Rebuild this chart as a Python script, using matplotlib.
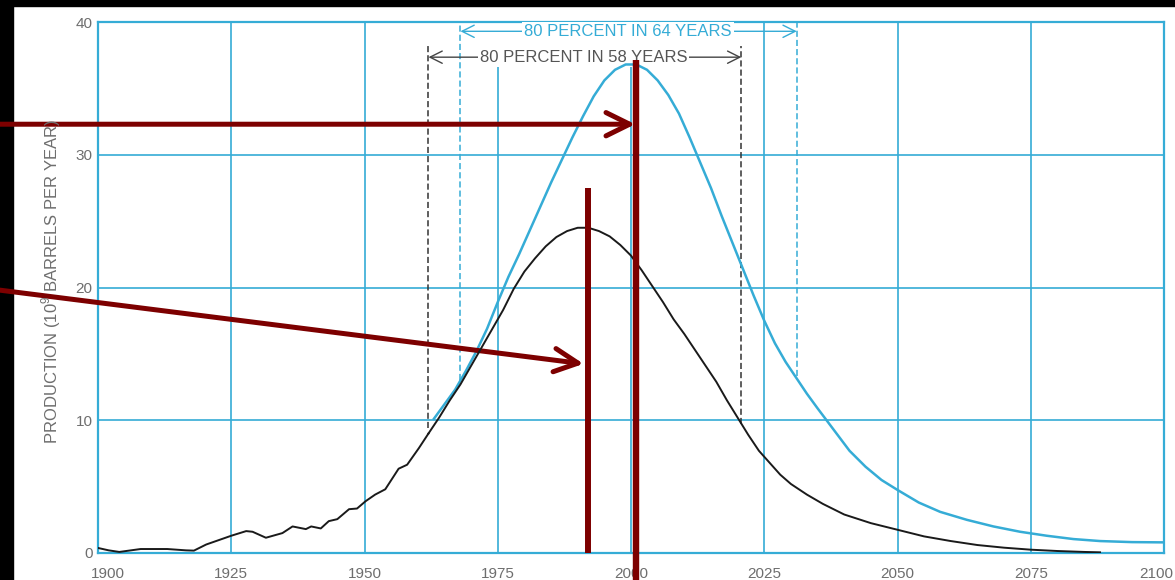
import matplotlib.pyplot as plt
from matplotlib.patches import Rectangle
from matplotlib.transforms import ScaledTranslation

plt.rcParams['font.family'] = ['Liberation Sans', 'DejaVu Sans']
plt.rcParams['mathtext.fontset'] = 'custom'
plt.rcParams['mathtext.rm'] = 'Liberation Sans'

hist_years = [1900, 1902, 1904, 1908, 1913, 1916.5, 1918, 1920.3, 1925, 1927.8, 1929,
              1931.5, 1934.6, 1936.5, 1939, 1940, 1941.8, 1943.3, 1944.9, 1947.1,
              1948.6, 1950.2, 1952, 1953.9, 1956.4, 1958, 1960.2, 1962]
hist_prod = [0.38, 0.2, 0.08, 0.3, 0.3, 0.2, 0.18, 0.64, 1.3, 1.65, 1.6,
             1.15, 1.5, 2.0, 1.8, 2.0, 1.85, 2.4, 2.55, 3.3,
             3.35, 3.9, 4.4, 4.8, 6.35, 6.65, 7.9, 9.0]

# lower estimate curve (black), 80 percent in 58 years
low_years = [1962, 1964, 1966, 1968, 1970, 1972, 1974, 1976, 1978, 1980, 1982, 1984,
             1986, 1988, 1990, 1992, 1994, 1996, 1998, 2000, 2002, 2004, 2006, 2008,
             2010, 2012, 2014, 2016, 2018, 2020, 2022, 2024, 2026, 2028, 2030, 2033,
             2036, 2040, 2045, 2050, 2055, 2060, 2065, 2070, 2075, 2080, 2085, 2088]
low_prod = [9.0, 10.2, 11.5, 12.7, 14.1, 15.5, 16.9, 18.3, 19.9, 21.2, 22.2, 23.1,
            23.8, 24.25, 24.5, 24.5, 24.25, 23.85, 23.2, 22.4, 21.3, 20.1, 18.9, 17.6,
            16.5, 15.3, 14.1, 12.9, 11.5, 10.2, 8.9, 7.7, 6.8, 5.9, 5.2, 4.4,
            3.7, 2.9, 2.25, 1.75, 1.25, 0.9, 0.6, 0.4, 0.25, 0.15, 0.08, 0.05]

# upper estimate curve (blue), 80 percent in 64 years
high_years = [1963, 1965, 1967, 1969, 1971, 1973, 1975, 1977, 1979, 1981, 1983, 1985,
              1987, 1989, 1991, 1993, 1995, 1997, 1999, 2001, 2003, 2005, 2007, 2009,
              2011, 2013, 2015, 2017, 2019, 2021, 2023, 2025, 2027, 2029, 2031, 2033,
              2035, 2038, 2041, 2044, 2047, 2050, 2054, 2058, 2063, 2068, 2073, 2078,
              2083, 2088, 2094, 2100]
high_prod = [10.1, 11.2, 12.3, 13.7, 15.2, 16.9, 18.9, 20.8, 22.5, 24.3, 26.1, 27.9,
             29.6, 31.3, 32.9, 34.4, 35.6, 36.4, 36.8, 36.8, 36.4, 35.6, 34.5, 33.1,
             31.3, 29.4, 27.5, 25.4, 23.4, 21.4, 19.4, 17.5, 15.8, 14.4, 13.2, 12.0,
             10.9, 9.3, 7.7, 6.5, 5.5, 4.75, 3.8, 3.1, 2.5, 2.0, 1.6, 1.3,
             1.05, 0.9, 0.82, 0.8]

blue = '#35acd6'
red = '#7d0000'
gray = '#6e6e6e'

fig = plt.figure(figsize=(11.75, 5.8), dpi=100)
ax = fig.add_axes([98 / 1175, 27 / 580, 1066 / 1175, 531 / 580])

# scan border
fig.patches.append(Rectangle((0, 0), 13 / 1175, 1, transform=fig.transFigure, color='black', zorder=-1))
fig.patches.append(Rectangle((0, 1 - 6 / 580), 1, 6 / 580, transform=fig.transFigure, color='black', zorder=-1))

ax.set_xlim(1900, 2100)
ax.set_ylim(0, 40)
ax.set_xticks([1900, 1925, 1950, 1975, 2000, 2025, 2050, 2075, 2100])
ax.set_yticks([0, 10, 20, 30, 40])
ax.tick_params(axis='both', length=0, labelsize=11, labelcolor=gray)
ax.tick_params(axis='x', pad=10)
ax.tick_params(axis='y', pad=4)
for s in ax.spines.values():
    s.set_color(blue)
    s.set_linewidth(1.6)
xt = ax.xaxis.get_major_ticks()
first = xt[0].label1
first.set_transform(first.get_transform() + ScaledTranslation(0.1, 0, fig.dpi_scale_trans))
last = xt[-1].label1
last.set_transform(last.get_transform() + ScaledTranslation(-0.08, 0, fig.dpi_scale_trans))

# grid
for yr in [1925, 1950, 2025, 2050, 2075]:
    ax.axvline(yr, color=blue, lw=1.2, zorder=1)
for yr in [1975, 2000]:
    ax.plot([yr, yr], [0, 36.8], color=blue, lw=1.2, zorder=1)
for v in [10, 20, 30]:
    ax.axhline(v, color=blue, lw=1.2, zorder=1)

# dashed markers of the 80 percent spans
ax.plot([1962.0, 1962.0], [9.4, 38.2], color='#333333', lw=1.1, ls=(0, (4, 2)), zorder=2)
ax.plot([2020.7, 2020.7], [9.7, 38.2], color='#333333', lw=1.1, ls=(0, (4, 2)), zorder=2)
ax.plot([1968.0, 1968.0], [13.0, 40], color=blue, lw=1.1, ls=(0, (4, 2)), zorder=2)
ax.plot([2031.1, 2031.1], [13.3, 40], color=blue, lw=1.1, ls=(0, (4, 2)), zorder=2)

ax.annotate('', xy=(1968.0, 39.3), xytext=(2031.1, 39.3),
            arrowprops=dict(arrowstyle='<->', color=blue, lw=1.0, shrinkA=0, shrinkB=0,
                            mutation_scale=22))
ax.text(1999.4, 39.3, '80 PERCENT IN 64 YEARS', color=blue, fontsize=12,
        ha='center', va='center', bbox=dict(fc='white', ec='none', pad=1.5))
ax.annotate('', xy=(1962.0, 37.35), xytext=(2020.7, 37.35),
            arrowprops=dict(arrowstyle='<->', color='#444444', lw=1.0, shrinkA=0, shrinkB=0,
                            mutation_scale=22))
ax.text(1991.1, 37.35, '80 PERCENT IN 58 YEARS', color='#555555', fontsize=12,
        ha='center', va='center', bbox=dict(fc='white', ec='none', pad=1.5))

# curves
ax.plot(high_years, high_prod, color=blue, lw=1.8, zorder=3)
ax.plot(hist_years, hist_prod, color='#1a1a1a', lw=1.4, zorder=4)
ax.plot(low_years, low_prod, color='#1a1a1a', lw=1.4, zorder=4)

fig.text(51 / 1175, 299 / 580, 'PRODUCTION (10$^{\\mathregular{9}}$ BARRELS PER YEAR)',
         rotation=90, ha='center', va='center', fontsize=12, color=gray)

# red markup on top
ax.annotate('', xy=(2000.8, 32.3), xytext=(1881.6, 32.3), annotation_clip=False,
            arrowprops=dict(arrowstyle='->,head_length=0.85,head_width=0.42', color=red,
                            lw=3.6, shrinkA=0, shrinkB=0, mutation_scale=20))
ax.annotate('', xy=(1991.1, 14.25), xytext=(1881.6, 19.8), annotation_clip=False,
            arrowprops=dict(arrowstyle='->,head_length=0.85,head_width=0.42', color=red,
                            lw=3.6, shrinkA=0, shrinkB=0, mutation_scale=20))
ax.plot([2001.0, 2001.0], [37.1, -2.1], color=red, lw=4.6, solid_capstyle='butt',
        clip_on=False, zorder=6)
ax.plot([1992.0, 1992.0], [27.5, 0], color=red, lw=4.3, solid_capstyle='butt',
        clip_on=False, zorder=6)

fig.savefig('out.png', dpi=100)
